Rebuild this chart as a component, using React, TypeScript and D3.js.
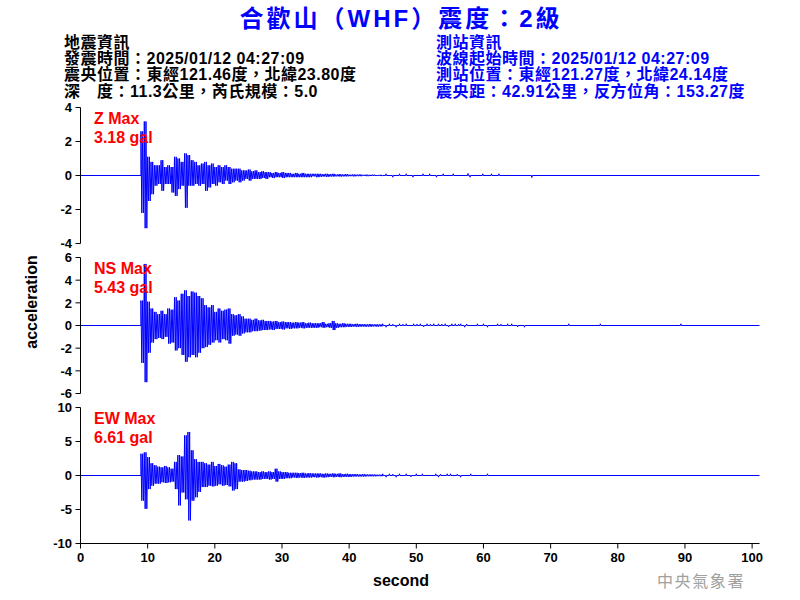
import React from "react";
import * as d3 from "d3";

// ---------- data ----------
const X_TICKS = [0, 10, 20, 30, 40, 50, 60, 70, 80, 90, 100];
const T0 = 9.0; // first binned sample (s)
const BIN = 0.5; // bin width (s)

const zHi = [2.6, 3.18, 1.1, 0.8, 0.6, 0.6, 0.9, 0.5, 0.6, 0.5, 1.1, 1.0, 0.8, 1.3, 1.2, 0.9, 0.8, 0.6, 0.7, 0.8, 0.6, 0.7, 0.5, 0.6, 0.5, 0.6, 0.5, 0.4, 0.4, 0.4, 0.3, 0.3, 0.35, 0.25, 0.3, 0.2, 0.25, 0.2, 0.2, 0.15, 0.2, 0.15, 0.2, 0.15, 0.15, 0.1, 0.15, 0.1, 0.15, 0.1, 0.1, 0.1, 0.1, 0.1, 0.08, 0.1, 0.08, 0.1, 0.06, 0.08, 0.06, 0.08, 0.05, 0.06, 0.05, 0.06, 0.04, 0.05, 0.04, 0.05, 0.03, 0.04];
const zLo = [-2.2, -3.1, -1.5, -1.1, -0.6, -0.5, -0.9, -0.5, -0.5, -1.0, -1.2, -0.8, -0.6, -1.9, -0.6, -0.6, -0.5, -0.6, -0.5, -0.9, -0.7, -0.5, -0.6, -0.4, -0.5, -0.3, -0.5, -0.4, -0.3, -0.4, -0.3, -0.2, -0.3, -0.2, -0.2, -0.2, -0.15, -0.2, -0.1, -0.15, -0.1, -0.1, -0.15, -0.1, -0.1, -0.1, -0.1, -0.1, -0.1, -0.1, -0.1, -0.05, -0.1, -0.08, -0.06, -0.08, -0.06, -0.06, -0.05, -0.06, -0.05, -0.05, -0.04, -0.05, -0.04, -0.04, -0.03, -0.04, -0.03, -0.03, -0.03, -0.03];
const zBlipT = [45.5, 46.5, 47.5, 48.5, 49.5, 51, 52, 53, 54, 55.5, 57.7, 58, 59.9, 61.2, 62.3, 67.2];
const zBlipV = [0.1, -0.1, 0.1, 0.1, -0.1, 0.1, 0.1, -0.1, 0.1, 0.1, 0.12, -0.1, 0.1, 0.1, 0.1, -0.12];

const nsHi = [2.2, 5.43, 2.1, 1.5, 1.2, 1.0, 1.3, 1.0, 1.5, 1.4, 2.5, 2.2, 2.8, 3.1, 2.6, 3.0, 2.9, 2.6, 2.4, 1.8, 1.6, 1.8, 1.2, 1.5, 1.3, 1.4, 1.5, 1.0, 0.9, 1.0, 0.8, 0.6, 0.6, 0.5, 0.6, 0.45, 0.5, 0.4, 0.4, 0.35, 0.4, 0.3, 0.35, 0.3, 0.3, 0.25, 0.3, 0.25, 0.3, 0.2, 0.25, 0.2, 0.2, 0.2, 0.3, 0.15, 0.2, 0.4, 0.2, 0.15, 0.2, 0.15, 0.15, 0.12, 0.15, 0.12, 0.12, 0.1, 0.12, 0.1, 0.1, 0.1];
const nsLo = [-3.3, -5.0, -2.4, -1.5, -1.2, -1.1, -1.2, -1.0, -1.6, -1.5, -2.2, -2.0, -2.6, -3.2, -2.8, -2.6, -2.8, -2.4, -2.0, -1.9, -1.7, -1.5, -1.3, -1.5, -1.2, -1.3, -1.6, -0.9, -0.8, -0.9, -0.7, -0.6, -0.6, -0.5, -0.5, -0.45, -0.4, -0.4, -0.35, -0.4, -0.3, -0.3, -0.35, -0.25, -0.3, -0.25, -0.25, -0.2, -0.25, -0.2, -0.2, -0.2, -0.2, -0.15, -0.2, -0.15, -0.2, -0.4, -0.2, -0.15, -0.15, -0.12, -0.12, -0.1, -0.12, -0.1, -0.1, -0.1, -0.1, -0.08, -0.1, -0.08];
const nsBlipT = [45, 45.5, 46, 46.5, 47, 47.5, 48, 48.5, 49.6, 50.1, 50.6, 51.1, 51.6, 52.1, 52.6, 53.3, 53.8, 54.3, 54.8, 55.3, 55.8, 56.3, 56.6, 57.2, 57.5, 59.1, 60.0, 60.6, 62.1, 62.6, 63.6, 64.2, 65.1, 66.1, 72.7, 77.4, 89.4];
const nsBlipV = [0.15, -0.15, 0.15, 0.12, -0.15, 0.15, 0.12, 0.15, 0.15, 0.12, 0.15, -0.12, 0.15, 0.12, 0.15, 0.15, 0.12, 0.15, -0.12, 0.15, 0.15, 0.12, 0.15, -0.15, 0.12, 0.15, 0.15, -0.15, 0.15, 0.12, 0.15, 0.15, -0.12, -0.15, 0.15, 0.15, 0.15];

const ewHi = [3.2, 3.4, 2.7, 1.8, 1.5, 1.3, 1.2, 1.4, 1.2, 1.0, 2.0, 3.0, 2.8, 5.9, 6.4, 3.7, 2.4, 2.0, 2.0, 1.8, 1.6, 2.0, 1.4, 1.7, 1.5, 1.3, 1.6, 2.0, 1.8, 0.9, 0.8, 0.8, 0.7, 0.6, 0.6, 0.5, 0.6, 0.5, 0.6, 0.5, 1.0, 0.6, 0.5, 0.5, 0.4, 0.4, 0.4, 0.35, 0.4, 0.3, 0.35, 0.3, 0.3, 0.3, 0.25, 0.3, 0.25, 0.3, 0.25, 0.3, 0.2, 0.25, 0.2, 0.2, 0.2, 0.15, 0.2, 0.15, 0.15, 0.15, 0.12, 0.12];
const ewLo = [-3.7, -4.9, -2.0, -1.5, -1.2, -1.2, -1.0, -1.1, -1.0, -0.9, -2.0, -4.4, -2.5, -3.5, -6.61, -3.7, -3.2, -2.4, -1.7, -1.7, -1.5, -1.6, -1.5, -1.3, -1.5, -1.4, -1.6, -2.2, -2.0, -0.9, -0.9, -0.8, -0.7, -0.6, -0.6, -0.6, -0.5, -0.5, -0.6, -0.5, -0.9, -0.5, -0.5, -0.4, -0.4, -0.3, -0.35, -0.3, -0.35, -0.3, -0.3, -0.25, -0.3, -0.25, -0.3, -0.25, -0.2, -0.25, -0.2, -0.25, -0.2, -0.2, -0.2, -0.15, -0.15, -0.15, -0.15, -0.12, -0.12, -0.12, -0.1, -0.1];
const ewBlipT = [45, 45.5, 46, 46.5, 47, 47.5, 48.5, 49.2, 50, 50.9, 52.9, 53.3, 53.6, 54.6, 55.1, 56.1, 56.6, 58.1, 60.6];
const ewBlipV = [0.25, -0.25, 0.25, 0.2, -0.25, 0.25, 0.25, -0.2, 0.25, 0.25, 0.25, -0.25, 0.2, 0.25, 0.25, 0.2, -0.25, 0.25, 0.25];

const CHANNELS = ["Z", "NS", "EW"];
const MAX_LABELS = ["3.18 gal", "5.43 gal", "6.61 gal"];
const Y_DOMAINS: [number, number][] = [[-4, 4], [-6, 6], [-10, 10]];
const Y_TICKS = [[-4, -2, 0, 2, 4], [-6, -4, -2, 0, 2, 4, 6], [-10, -5, 0, 5, 10]];

const LEFT_INFO = ["地震資訊", "發震時間：2025/01/12 04:27:09", "震央位置：東經121.46度，北緯23.80度", "深　度：11.3公里，芮氏規模：5.0"];
const RIGHT_INFO = ["測站資訊", "波線起始時間：2025/01/12 04:27:09", "測站位置：東經121.27度，北緯24.14度", "震央距：42.91公里，反方位角：153.27度"];

// ---------- layout ----------
const W = 800, H = 600;
const X0 = 80.5, X1 = 759.5;
const PANEL_TOPS = [107.5, 257.5, 407.5];
const PANEL_H = 136;
const FONT = "'Liberation Sans', Arial, 'Noto Sans CJK TC', sans-serif";
const BLUE = "#0000ff";

// each bin is drawn as two up/down strokes between its max and min
function buildPoints(hi: number[], lo: number[], bt: number[], bv: number[]): [number, number][] {
  const pts: [number, number][] = [[0, 0], [T0, 0]];
  const n = Math.min(hi.length, lo.length);
  for (let i = 0; i < n; i++) {
    const t = T0 + i * BIN;
    pts.push([t, hi[i]]);
    pts.push([t + BIN / 4, lo[i]]);
    pts.push([t + BIN / 2, hi[i]]);
    pts.push([t + (3 * BIN) / 4, lo[i]]);
  }
  pts.push([T0 + n * BIN, 0]);
  const m = Math.min(bt.length, bv.length);
  for (let i = 0; i < m; i++) {
    pts.push([bt[i] - 0.07, 0], [bt[i], bv[i]], [bt[i] + 0.07, 0]);
  }
  pts.push([101.1, 0]);
  return pts;
}

const SERIES = [
  buildPoints(zHi, zLo, zBlipT, zBlipV),
  buildPoints(nsHi, nsLo, nsBlipT, nsBlipV),
  buildPoints(ewHi, ewLo, ewBlipT, ewBlipV),
];

export default function App() {
  const x = d3.scaleLinear().domain([0, 101.1]).range([X0, X1]);

  return (
    <svg width={W} height={H} style={{ position: "absolute", left: 0, top: 0, background: "#fff" }} fontFamily={FONT}>
      <rect x={0} y={0} width={W} height={H} fill="#fff" />
      {/* title */}
      <text x={401} y={27} textAnchor="middle" fontSize={24} fontWeight="bold" fill={BLUE} letterSpacing={3}>
        合歡山（WHF）震度：2級
      </text>
      {/* header blocks */}
      {LEFT_INFO.map((s, i) => (
        <text key={"l" + i} x={64} y={48 + i * 16.2} fontSize={16} fontWeight="bold" fill="#000" letterSpacing={0.5}>{s}</text>
      ))}
      {RIGHT_INFO.map((s, i) => (
        <text key={"r" + i} x={436} y={48 + i * 16.2} fontSize={16} fontWeight="bold" fill={BLUE} letterSpacing={0.5}>{s}</text>
      ))}

      {CHANNELS.map((ch, ci) => {
        const top = PANEL_TOPS[ci];
        const y = d3.scaleLinear().domain(Y_DOMAINS[ci]).range([top + PANEL_H, top]);
        const line = d3.line<[number, number]>().x((d) => x(d[0])).y((d) => y(d[1]));
        return (
          <g key={ch}>
            <path d={line(SERIES[ci]) || ""} fill="none" stroke={BLUE} strokeWidth={1} />
            <line x1={X0} x2={X0} y1={top} y2={top + PANEL_H} stroke="#000" strokeWidth={1} />
            {Y_TICKS[ci].map((v) => (
              <g key={v}>
                <line x1={X0 - 5} x2={X0} y1={y(v)} y2={y(v)} stroke="#000" strokeWidth={1} />
                <text x={72} y={y(v)} dy="0.36em" textAnchor="end" fontSize={13} fontWeight="bold" fill="#000">{v}</text>
              </g>
            ))}
            <text x={94} y={top + 16} fontSize={16} fontWeight="bold" fill="#ff0000">{ch} Max</text>
            <text x={94} y={top + 35.5} fontSize={16} fontWeight="bold" fill="#ff0000">{MAX_LABELS[ci]}</text>
          </g>
        );
      })}

      {/* x axis */}
      <line x1={X0} x2={X1} y1={543.5} y2={543.5} stroke="#000" strokeWidth={1} />
      {X_TICKS.map((v) => (
        <g key={v}>
          <line x1={x(v)} x2={x(v)} y1={543.5} y2={548.5} stroke="#000" strokeWidth={1} />
          <text x={x(v)} y={562} textAnchor="middle" fontSize={13} fontWeight="bold" fill="#000">{v}</text>
        </g>
      ))}
      <text x={401} y={586} textAnchor="middle" fontSize={16} fontWeight="bold" fill="#000">second</text>
      <text transform="translate(37,302) rotate(-90)" textAnchor="middle" fontSize={16} fontWeight="bold" fill="#000">acceleration</text>

      {/* watermark */}
      <text x={657} y={587} fontSize={16} fill="#a0a0a0" letterSpacing={1.6} fontFamily="'Noto Sans CJK TC', sans-serif">中央氣象署</text>
    </svg>
  );
}
